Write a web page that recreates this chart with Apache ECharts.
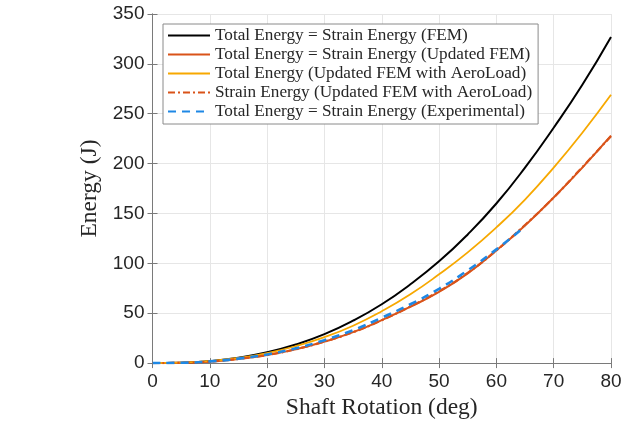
<!DOCTYPE html>
<html>
<head>
<meta charset="utf-8">
<script src="https://cdn.jsdelivr.net/npm/echarts@6/dist/echarts.min.js"></script>
<style>
  html, body { margin: 0; padding: 0; background: #fff; }
  #chart { width: 627px; height: 425px; }
</style>
</head>
<body>
<div id="chart"></div>
<script>
// shaft rotation (deg) and energy values (J)
const angles = [0, 5, 10, 15, 20, 25, 30, 35, 40, 45, 50, 55, 60, 65, 70, 75, 80];
const femTotal = [0, 0.35, 2, 5.4, 10.8, 18.6, 29, 42.5, 59, 79, 102, 129, 160, 196, 236, 279, 327];
const updatedTotal = [0, 0.25, 1.5, 4.2, 8, 13.8, 21.5, 31, 43, 56.5, 71.5, 90, 113, 138, 166, 196, 228];
const aeroTotal = [0, 0.4, 2, 5.1, 10, 17, 26, 37.5, 52, 69, 89, 111, 136, 164, 196, 231, 269];
const aeroStrain = [0, 0.25, 1.5, 4.2, 8.1, 13.9, 21.6, 31, 43, 56.8, 72, 90.5, 113, 138.5, 166, 196.5, 227.5];
const expAngles = [0, 5, 10, 15, 20, 25, 30, 35, 40, 45, 50, 55, 60, 65];
const expTotal = [0, 0.3, 1.7, 4.5, 8.7, 14.8, 23, 33, 45.5, 59, 74.5, 93, 114, 137];

const names = [
  'Total Energy = Strain Energy (FEM)',
  'Total Energy = Strain Energy (Updated FEM)',
  'Total Energy (Updated FEM with AeroLoad)',
  'Strain Energy (Updated FEM with AeroLoad)',
  'Total Energy = Strain Energy (Experimental)'
];

function pairs(xs, ys) {
  return xs.map((x, i) => [x, ys[i]]);
}

const axisGray = '#7a7a7a';
const tickFont = { fontFamily: 'Liberation Sans', fontSize: 19, color: '#262626' };
const serif = 'Liberation Serif';

function lineSeries(name, xs, ys, color, width, type) {
  return {
    name: name,
    type: 'line',
    data: pairs(xs, ys),
    smooth: true,
    symbol: 'none',
    lineStyle: { color: color, width: width, type: type },
    itemStyle: { color: color },
    z: 3
  };
}

const chart = echarts.init(document.getElementById('chart'), null, { renderer: 'canvas' });

chart.setOption({
  animation: false,
  backgroundColor: '#fff',
  grid: { left: 152.5, right: 16, top: 14, bottom: 60 },
  legend: {
    left: 163,
    top: 24,
    orient: 'vertical',
    data: names,
    itemWidth: 42,
    itemHeight: 12,
    itemGap: 0,
    padding: [2, 6, 3, 4],
    backgroundColor: '#fff',
    borderColor: '#8a8a8a',
    borderWidth: 1,
    itemStyle: { opacity: 0 },
    textStyle: { fontFamily: serif, fontSize: 17.2, color: '#262626', lineHeight: 19 }
  },
  xAxis: [
    {
      type: 'value', min: 0, max: 80, interval: 10,
      name: 'Shaft Rotation (deg)', nameLocation: 'middle', nameGap: 31,
      nameTextStyle: { fontFamily: serif, fontSize: 23.5, color: '#262626' },
      axisLine: { show: true, lineStyle: { color: axisGray, width: 1 } },
      axisTick: { show: true, inside: true, length: 5, lineStyle: { color: axisGray } },
      axisLabel: Object.assign({ margin: 9 }, tickFont),
      splitLine: { show: true, lineStyle: { color: '#e6e6e6', width: 1 } }
    },
    {
      type: 'value', min: 0, max: 80, interval: 10, position: 'top',
      axisLine: { show: true, lineStyle: { color: axisGray, width: 1 } },
      axisTick: { show: true, inside: true, length: 5, lineStyle: { color: axisGray } },
      axisLabel: { show: false },
      splitLine: { show: false }
    }
  ],
  yAxis: [
    {
      type: 'value', min: 0, max: 350, interval: 50,
      name: 'Energy (J)', nameLocation: 'middle', nameGap: 46,
      nameTextStyle: { fontFamily: serif, fontSize: 23.5, color: '#262626' },
      axisLine: { show: true, lineStyle: { color: axisGray, width: 1 } },
      axisTick: { show: true, inside: true, length: 5, lineStyle: { color: axisGray } },
      axisLabel: Object.assign({ margin: 8 }, tickFont),
      splitLine: { show: true, lineStyle: { color: '#e6e6e6', width: 1 } }
    },
    {
      type: 'value', min: 0, max: 350, interval: 50, position: 'right',
      axisLine: { show: true, lineStyle: { color: axisGray, width: 1 } },
      axisTick: { show: true, inside: true, length: 5, lineStyle: { color: axisGray } },
      axisLabel: { show: false },
      splitLine: { show: false }
    }
  ],
  series: [
    lineSeries(names[0], angles, femTotal, '#000000', 2, 'solid'),
    lineSeries(names[1], angles, updatedTotal, '#D95319', 2, 'solid'),
    lineSeries(names[2], angles, aeroTotal, '#F7A800', 1.8, 'solid'),
    lineSeries(names[3], angles, aeroStrain, '#D95319', 2.2, [7, 3, 2, 3]),
    lineSeries(names[4], expAngles, expTotal, '#1E88E5', 2.6, [8, 6])
  ]
});
</script>
</body>
</html>
